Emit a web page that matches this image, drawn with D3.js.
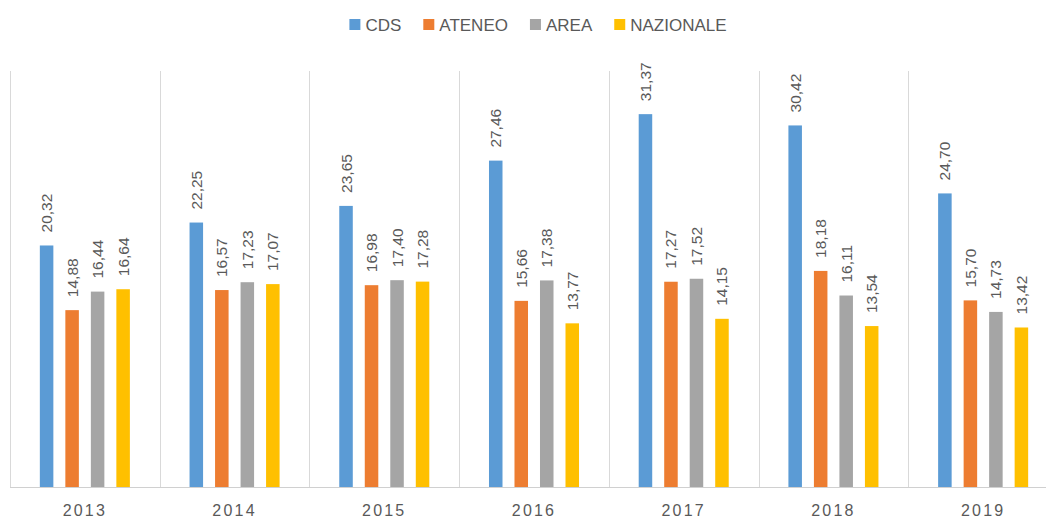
<!DOCTYPE html>
<html>
<head>
<meta charset="utf-8">
<script src="https://cdn.jsdelivr.net/npm/d3@7"></script>
<style>
  html, body { margin: 0; padding: 0; background: #fff; }
  svg { display: block; font-family: "Liberation Sans", Arial, sans-serif; }
</style>
</head>
<body>
<div id="chart"></div>
<script>
// Data
var years = ["2013", "2014", "2015", "2016", "2017", "2018", "2019"];
var seriesNames = ["CDS", "ATENEO", "AREA", "NAZIONALE"];
var cds       = [20.32, 22.25, 23.65, 27.46, 31.37, 30.42, 24.70];
var ateneo    = [14.88, 16.57, 16.98, 15.66, 17.27, 18.18, 15.70];
var area      = [16.44, 17.23, 17.40, 17.38, 17.52, 16.11, 14.73];
var nazionale = [16.64, 17.07, 17.28, 13.77, 14.15, 13.54, 13.42];
var colors = ["#5B9BD5", "#ED7D31", "#A5A5A5", "#FFC000"];

var W = 1046, H = 521;
var plotLeft = 10, plotRight = 1058, plotTop = 71, plotBottom = 487;

var svg = d3.select("#chart").append("svg")
    .attr("width", W)
    .attr("height", H);

var values = [cds, ateneo, area, nazionale];
var rows = [];
years.forEach(function(y, i) {
    seriesNames.forEach(function(s, j) {
        rows.push({ year: y, series: s, value: values[j][i], color: colors[j] });
    });
});

// Scales
var x0 = d3.scaleBand()
    .domain(years)
    .range([plotLeft, plotRight])
    .padding(0);

var x1 = d3.scaleBand()
    .domain(seriesNames)
    .range([0, x0.bandwidth()])
    .paddingInner(0.47)
    .paddingOuter(1.17);

var y = d3.scaleLinear()
    .domain([0, 35])
    .range([plotBottom, plotTop]);

// Group separators
svg.append("g")
    .selectAll("line")
    .data(years.concat(["end"]))
    .enter()
    .append("line")
    .attr("x1", function(d, i) { return Math.round(plotLeft + i * x0.step()) + 0.5; })
    .attr("x2", function(d, i) { return Math.round(plotLeft + i * x0.step()) + 0.5; })
    .attr("y1", plotTop)
    .attr("y2", plotBottom)
    .attr("stroke", "#d9d9d9")
    .attr("stroke-width", 1);

// Bars
svg.append("g")
    .selectAll("rect")
    .data(rows)
    .enter()
    .append("rect")
    .attr("x", function(d) { return x0(d.year) + x1(d.series); })
    .attr("y", function(d) { return y(d.value); })
    .attr("width", x1.bandwidth())
    .attr("height", function(d) { return plotBottom - y(d.value); })
    .attr("fill", function(d) { return d.color; });

// Baseline
svg.append("line")
    .attr("x1", plotLeft)
    .attr("x2", plotRight)
    .attr("y1", plotBottom + 0.5)
    .attr("y2", plotBottom + 0.5)
    .attr("stroke", "#d0d0d0")
    .attr("stroke-width", 1);

// Value labels, rotated
var fmt = function(v) { return v.toFixed(2).replace(".", ","); };
svg.append("g")
    .selectAll("text")
    .data(rows)
    .enter()
    .append("text")
    .attr("transform", function(d) {
        var cx = x0(d.year) + x1(d.series) + x1.bandwidth() / 2;
        return "translate(" + (cx + 5.5) + "," + (y(d.value) - 13) + ") rotate(-90)";
    })
    .attr("text-anchor", "start")
    .attr("fill", "#595959")
    .style("font-size", "15.5px")
    .text(function(d) { return fmt(d.value); });

// X axis labels
svg.append("g")
    .selectAll("text")
    .data(years)
    .enter()
    .append("text")
    .attr("x", function(d) { return x0(d) + x0.bandwidth() / 2; })
    .attr("y", 516)
    .attr("text-anchor", "middle")
    .attr("fill", "#595959")
    .style("font-size", "16px")
    .style("letter-spacing", "2.2px")
    .text(function(d) { return d; });

// Legend
var legend = svg.append("g");
var items = legend.selectAll("g")
    .data(seriesNames)
    .enter()
    .append("g");
items.append("rect")
    .attr("width", 11)
    .attr("height", 11)
    .attr("y", 19)
    .attr("fill", function(d, i) { return colors[i]; });
items.append("text")
    .attr("x", 16)
    .attr("y", 31)
    .attr("fill", "#595959")
    .style("font-size", "17px")
    .text(function(d) { return d; });

var xpos = 0, gap = 22, positions = [];
items.each(function() {
    var w = d3.select(this).select("text").node().getComputedTextLength() + 16;
    positions.push(xpos);
    xpos += w + gap;
});
var total = xpos - gap;
var start = 538 - total / 2;
items.attr("transform", function(d, i) { return "translate(" + (start + positions[i]) + ",0)"; });
</script>
</body>
</html>
